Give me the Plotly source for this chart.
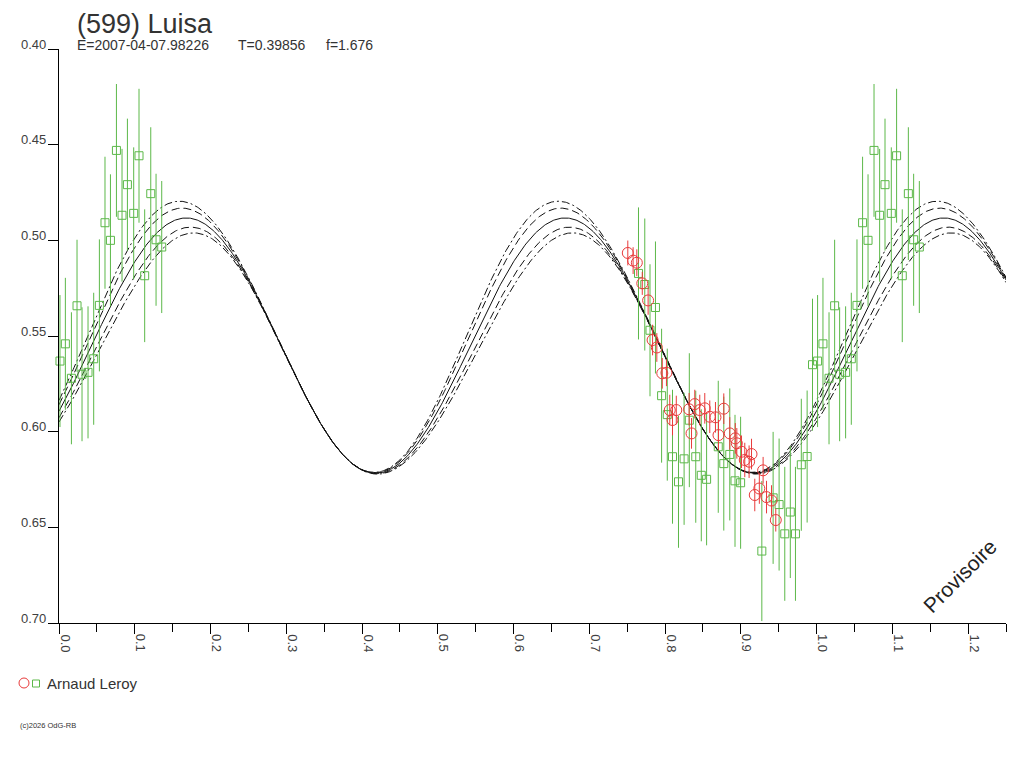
import numpy as np
import plotly.graph_objects as go

# ---- observations (phase, reduced magnitude, 1-sigma) ----
green_phase = [0.0013, 0.0084, 0.0164, 0.0238, 0.0304, 0.0383, 0.0458, 0.0533,
               0.0607, 0.0679, 0.0758, 0.0832, 0.0903, 0.0986, 0.1056, 0.1131,
               0.1211, 0.1281, 0.1356,
               0.7649, 0.7732, 0.7801, 0.7873, 0.7954, 0.8029, 0.8098, 0.8177,
               0.8251, 0.8320, 0.8405, 0.8478, 0.8548, 0.8702, 0.8775, 0.8854,
               0.8923, 0.8997, 0.9277, 0.9426, 0.9505, 0.9580, 0.9653, 0.9721,
               0.9798, 0.9875, 0.9946]
green_mag = [0.5631, 0.5541, 0.5721, 0.5342, 0.5700, 0.5690, 0.5619, 0.5340,
             0.4908, 0.5000, 0.4530, 0.4869, 0.4709, 0.4859, 0.4558, 0.5185,
             0.4756, 0.4997, 0.5035,
             0.5173, 0.5231, 0.5470, 0.5351, 0.5812, 0.5911, 0.6131, 0.6262,
             0.6142, 0.5940, 0.6131, 0.6228, 0.6249, 0.6079, 0.6167, 0.6119,
             0.6257, 0.6267, 0.6624, 0.6346, 0.6381, 0.6534, 0.6420, 0.6534,
             0.6173, 0.6130, 0.5650]
green_err = [0.0345, 0.0345, 0.0345, 0.0345, 0.0350, 0.0345, 0.0345, 0.0345,
             0.0345, 0.0345, 0.0347, 0.0347, 0.0345, 0.0345, 0.0350, 0.0347,
             0.0347, 0.0345, 0.0345,
             0.0345, 0.0345, 0.0345, 0.0345, 0.0350, 0.0345, 0.0350, 0.0345,
             0.0345, 0.0350, 0.0345, 0.0345, 0.0345, 0.0345, 0.0350, 0.0345,
             0.0345, 0.0345, 0.0366, 0.0345, 0.0345, 0.0350, 0.0345, 0.0350,
             0.0345, 0.0345, 0.0345]

red_phase = [0.7508, 0.7578, 0.7627, 0.7699, 0.7776, 0.7835, 0.7891, 0.7963,
             0.8018, 0.8062, 0.8148, 0.8098, 0.8349, 0.8317, 0.8392, 0.8458,
             0.8524, 0.8590, 0.8665, 0.8775, 0.8705, 0.8854, 0.8927, 0.8947,
             0.9009, 0.9052, 0.9109, 0.9141, 0.9294, 0.9184, 0.9244, 0.9339,
             0.9405, 0.9461]
red_mag = [0.5066, 0.5106, 0.5117, 0.5225, 0.5314, 0.5521, 0.5560, 0.5695,
           0.5692, 0.5887, 0.5887, 0.5939, 0.6009, 0.5883, 0.5856, 0.5887,
           0.5878, 0.5922, 0.5925, 0.5880, 0.6018, 0.6009, 0.6035, 0.6061,
           0.6105, 0.6148, 0.6157, 0.6117, 0.6202, 0.6331, 0.6297, 0.6342,
           0.6360, 0.6462]
red_err = [0.0065, 0.0070, 0.0070, 0.0060, 0.0075, 0.0080, 0.0075, 0.0080,
           0.0070, 0.0080, 0.0075, 0.0080, 0.0080, 0.0085, 0.0075, 0.0080,
           0.0080, 0.0085, 0.0080, 0.0080, 0.0080, 0.0085, 0.0080, 0.0080,
           0.0085, 0.0090, 0.0085, 0.0080, 0.0070, 0.0085, 0.0080, 0.0085,
           0.0080, 0.0060]

# ---- fitted model (2nd harmonic dominated) and its uncertainty band ----
FIT_MEAN = 0.555
FIT_AMP = 0.0667
FIT_PEAK = 0.168
BAND_AMP = 0.0125
BAND_SHIFT = 0.68
band_levels = [-1.0, -0.6, 0.0, 0.6, 1.0]
band_dash = ["8px,3px,2px,3px", "8px,4px", "solid", "8px,4px", "8px,3px,2px,3px"]

x_ticks = [0.0, 0.1, 0.2, 0.3, 0.4, 0.5, 0.6, 0.7, 0.8, 0.9, 1.0, 1.1, 1.2]
y_ticks = [0.40, 0.45, 0.50, 0.55, 0.60, 0.65, 0.70]

GREEN = "#5cb849"
RED = "#e83b3b"
TXT = "#333333"
TICK_TXT = "#404040"
FONT = "Liberation Sans"

# plot box in page pixels; the page body adds an 8px offset to the figure
OFF = 8
W, H = 1024 - OFF, 768 - OFF
PL, PR, PT, PB = 59, 1006, 49, 623


def px_x(px):
    return (px - PL) / (PR - PL)


def px_y(py):
    return (PB - py) / (PB - PT)


fig = go.Figure()

# model curves
ph = np.linspace(0, 1.25, 1001)
theta = 4 * np.pi * (ph - FIT_PEAK)
base = FIT_MEAN - FIT_AMP * np.cos(theta)
band = BAND_AMP * ((1 - np.sin(theta - BAND_SHIFT)) / 2) ** 2
for lvl, dash in zip(band_levels, band_dash):
    fig.add_trace(go.Scatter(
        x=ph, y=base + lvl * band, mode="lines",
        line=dict(color="#111111", width=1, dash=dash),
        hoverinfo="skip"))

# green session, repeated one cycle later where it fits
gx, gy, ge = [], [], []
for p, m, e in zip(green_phase, green_mag, green_err):
    gx.append(p); gy.append(m); ge.append(e)
    if p + 1 <= 1.25:
        gx.append(p + 1); gy.append(m); ge.append(e)

fig.add_trace(go.Scatter(
    x=gx, y=gy, mode="markers", name="Arnaud Leroy",
    marker=dict(symbol="square-open", size=8, color=GREEN, line=dict(width=1)),
    error_y=dict(type="data", array=ge, color=GREEN, thickness=1, width=0),
    cliponaxis=False))

fig.add_trace(go.Scatter(
    x=red_phase, y=red_mag, mode="markers", name="Arnaud Leroy",
    marker=dict(symbol="circle-open", size=11, color=RED, line=dict(width=1)),
    error_y=dict(type="data", array=red_err, color=RED, thickness=1, width=0),
    cliponaxis=False))

fig.update_xaxes(
    range=[0, 1.25], tickmode="array", tickvals=x_ticks, showticklabels=False,
    ticks="outside", ticklen=10, tickcolor="black", showline=True,
    linecolor="black", linewidth=1, showgrid=False, zeroline=False,
    minor=dict(dtick=0.05, tick0=0, ticks="outside", ticklen=8, tickcolor="black"))
fig.update_yaxes(
    range=[0.70, 0.40], tickmode="array", tickvals=y_ticks, showticklabels=False,
    ticks="outside", ticklen=10, tickcolor="black", showline=True,
    linecolor="black", linewidth=1, showgrid=False, zeroline=False)

# tick labels: x labels turned a quarter clockwise, right of their tick;
# y labels sitting on top of their tick
for v in x_ticks:
    fig.add_annotation(text="%.1f" % v, x=v, xref="x", y=0, yref="paper",
                       xanchor="left", yanchor="top", xshift=-2, yshift=-10,
                       textangle=90, showarrow=False, borderpad=0,
                       font=dict(family=FONT, size=13, color=TICK_TXT))
for v in y_ticks:
    fig.add_annotation(text="%.2f" % v, x=0, xref="paper", y=v, yref="y",
                       xanchor="right", yanchor="middle", xshift=-12, yshift=5,
                       showarrow=False, borderpad=0,
                       font=dict(family=FONT, size=13, color=TICK_TXT))

notes = [
    ("(599) Luisa", 76, 24, 27),
    ("E=2007-04-07.98226", 76, 45, 14),
    ("T=0.39856", 237, 45, 14),
    ("f=1.676", 325, 45, 14),
    ("Arnaud Leroy", 46, 683, 15),
    ("(c)2026 OdG-RB", 19, 725, 7.5),
]
for text, x, y, size in notes:
    fig.add_annotation(text=text, x=px_x(x), y=px_y(y), xref="paper", yref="paper",
                       xanchor="left", yanchor="middle", showarrow=False,
                       borderpad=0, font=dict(family=FONT, size=size, color=TXT))
fig.add_annotation(text="Provisoire", x=px_x(959), y=px_y(576), xref="paper",
                   yref="paper", textangle=-45, showarrow=False,
                   xanchor="center", yanchor="middle",
                   font=dict(family=FONT, size=21, color="#222222"))

# legend symbols drawn by hand (one label, two symbols)
fig.add_shape(type="circle", xref="paper", yref="paper",
              x0=px_x(19), x1=px_x(29), y0=px_y(688), y1=px_y(678),
              line=dict(color=RED, width=1))
fig.add_shape(type="rect", xref="paper", yref="paper",
              x0=px_x(32.5), x1=px_x(39.5), y0=px_y(687), y1=px_y(680),
              line=dict(color=GREEN, width=1))

fig.update_layout(
    width=W, height=H, showlegend=False,
    margin=dict(l=PL - OFF, r=1024 - PR, t=PT - OFF, b=768 - PB),
    plot_bgcolor="white", paper_bgcolor="white",
    font=dict(family=FONT, color=TXT))

fig.write_html("out.html")
